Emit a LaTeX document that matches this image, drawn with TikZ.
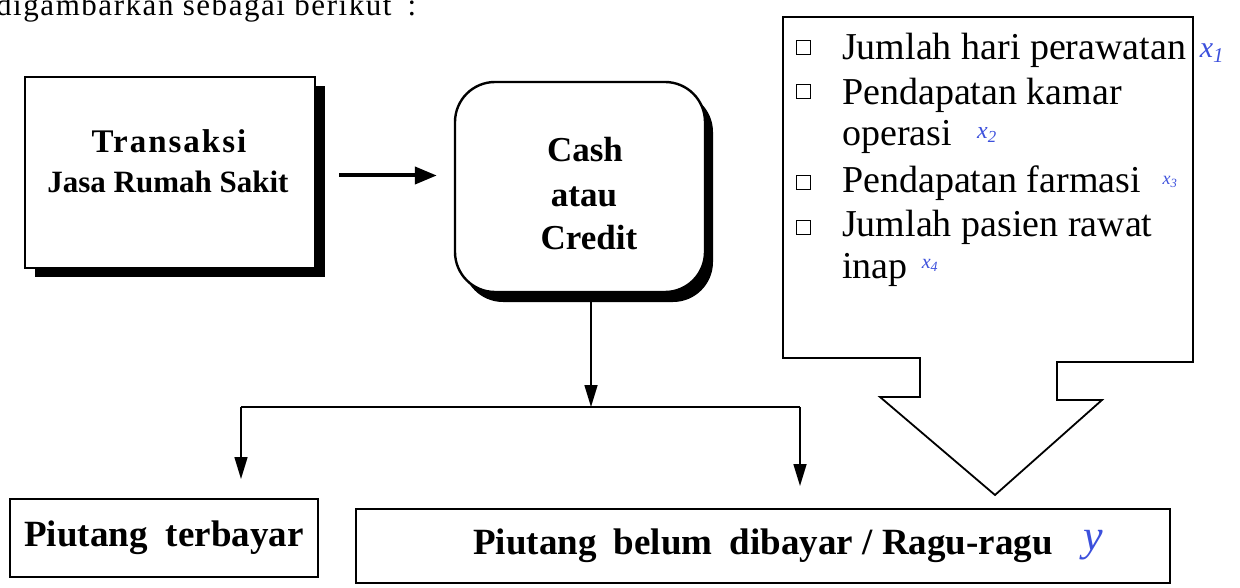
\documentclass[tikz,border=0pt]{standalone}
\usepackage{fontspec}
\setmainfont{Liberation Serif}
\usetikzlibrary{arrows.meta,shadows}
\definecolor{handblue}{RGB}{60,80,220}
\begin{document}
\begin{tikzpicture}[x=1pt,y=-1pt,line join=miter,
  box/.style={draw,line width=2pt,fill=white,inner sep=0pt},
  conn/.style={line width=1.6pt,-{Triangle[length=22pt,width=13pt]}},
  cb/.style={draw,line width=1pt,minimum width=14pt,minimum height=14pt,inner sep=0pt},
  item/.style={anchor=base west,inner sep=0pt,font=\fontsize{38}{38}\selectfont},
  hand/.style={text=handblue,inner sep=0pt}
]
\useasboundingbox (0,0) rectangle (1240,588);
\clip (0,0) rectangle (1240,588);

% heading (cut off at top)
\node[anchor=base west,inner sep=0pt] (hdr) at (-4,16)
  {\fontsize{31}{31}\selectfont\addfontfeature{LetterSpace=5}digambarkan sebagai berikut\hspace{16pt}:};

% Transaksi box
\node[box,line width=2.4pt,minimum width=290pt,minimum height=191pt,
  drop shadow={shadow xshift=10pt,shadow yshift=-9pt,opacity=1,fill=black}] (trans) at (170,172.5) {};
\node[anchor=base,inner sep=0pt] (transT) at (169,153)
  {\fontsize{33}{33}\selectfont\bfseries\addfontfeature{LetterSpace=6}Transaksi};
\node[anchor=base,inner sep=0pt] (transJ) at (168,193)
  {\fontsize{31}{31}\selectfont\bfseries Jasa Rumah Sakit};

% Cash atau Credit box
\node[box,line width=2.4pt,rounded corners=40pt,minimum width=250pt,minimum height=210pt,
  drop shadow={shadow xshift=8pt,shadow yshift=-10pt,opacity=1,fill=black}] (cash) at (580,187) {};
\node[anchor=base,inner sep=0pt] (cashA) at (585,162) {\fontsize{35}{35}\selectfont\bfseries Cash};
\node[anchor=base,inner sep=0pt] (cashB) at (584,207) {\fontsize{35}{35}\selectfont\bfseries atau};
\node[anchor=base,inner sep=0pt] (cashC) at (589,250) {\fontsize{35}{35}\selectfont\bfseries Credit};

% arrow Transaksi -> Cash
\coordinate (tarr) at ([xshift=23pt,yshift=-3pt]trans.east);
\draw[line width=4pt,-{Triangle[length=22pt,width=17pt]}]
  (tarr) -- ([xshift=-17pt]cash.west |- tarr);

% bottom boxes
\node[box,minimum width=308pt,minimum height=78pt] (paid) at (164,538)
  {\fontsize{37}{37}\selectfont\bfseries Piutang\hspace{9pt} terbayar};
\node[box,minimum width=814pt,minimum height=74pt] (unpaid) at (763,546)
  {\fontsize{37}{37}\selectfont\bfseries Piutang\hspace{8pt} belum\hspace{8pt} dibayar / Ragu-ragu};

% split connectors
\coordinate (split) at (591,407);
\coordinate (lcorner) at (241,407);
\coordinate (rcorner) at (800,407);
\draw[conn] ([xshift=11pt]cash.south) -- (split);
\draw[line width=1.6pt] (lcorner) -- (rcorner);
\draw[conn,shorten >=19pt] (lcorner) -- (lcorner |- paid.north);
\draw[conn,shorten >=22pt] (rcorner) -- (rcorner |- unpaid.north);

% right callout box with block arrow
\draw[line width=1.8pt] (783,17) -- (1193,17) -- (1193,362) -- (1057,362) -- (1057,400)
  -- (1102,400) -- (995,495) -- (880,397) -- (920,397) -- (920,358) -- (783,358) -- cycle;

\node[cb] (cb1) at (803,48) {};
\node[cb] (cb2) at (803,92) {};
\node[cb] (cb3) at (803,183) {};
\node[cb] (cb4) at (803,228) {};
\node[item] (it1) at (842,60) {Jumlah hari perawatan};
\node[item] (it2a) at (842,105) {Pendapatan kamar};
\node[item] (it2b) at (842,146) {operasi};
\node[item] (it3) at (842,193) {Pendapatan farmasi};
\node[item] (it4a) at (842,237) {Jumlah pasien rawat};
\node[item] (it4b) at (842,278) {inap};

% handwritten annotations
\node[hand] (h1) at (1212,53) {\fontsize{30}{30}\selectfont\itshape x\textsubscript{1}};
\node[hand] (h2) at (987,135) {\fontsize{24}{24}\selectfont\itshape x\textsubscript{2}};
\node[hand] (h3) at (1170,182) {\fontsize{18}{18}\selectfont\itshape x\textsubscript{3}};
\node[hand] (h4) at (930,265) {\fontsize{20}{20}\selectfont\itshape x\textsubscript{4}};
\node[hand] (h5) at (1093,545) {\fontsize{44}{44}\selectfont\itshape y};
\end{tikzpicture}
\end{document}
